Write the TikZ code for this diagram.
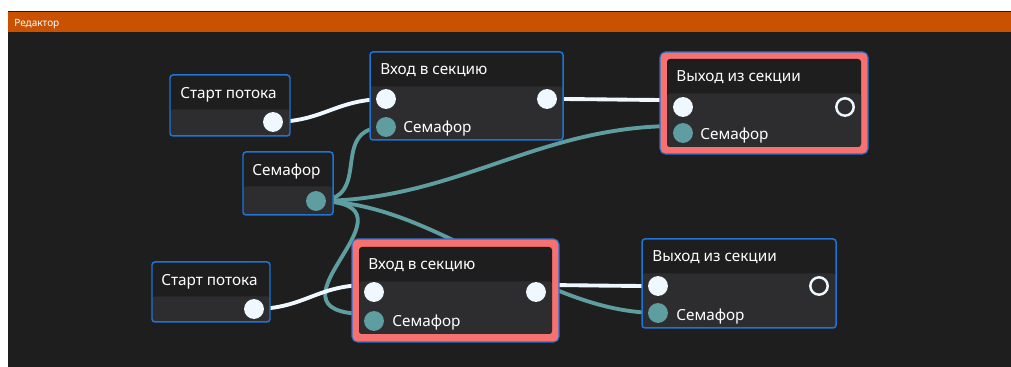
\documentclass[tikz,border=0pt]{standalone}
\usepackage{fontspec}
\setmainfont{Noto Sans}
\usepackage{tikz}
\usetikzlibrary{fit, calc}
\pgfdeclarelayer{back}
\pgfdeclarelayer{background}
\pgfsetlayers{back,background,main}

\definecolor{winbg}{RGB}{30,30,30}
\definecolor{barorange}{RGB}{202,81,0}
\definecolor{hdrgray}{RGB}{30,30,30}
\definecolor{bodygray}{RGB}{45,45,48}
\definecolor{nodeblue}{RGB}{30,115,215}
\definecolor{selred}{RGB}{248,113,113}
\definecolor{semteal}{RGB}{95,158,160}
\definecolor{portwhite}{RGB}{240,248,255}

\begin{document}
\begin{tikzpicture}[x=0.02cm, y=-0.02cm]

    % Window
    \useasboundingbox (0,0) rectangle (1011,367);

    % Node boxes
    \tikzset{box/.style={draw=nodeblue, line width=0.85pt, fill=hdrgray, rounded corners=1.7pt, inner sep=0pt,
        path picture={\fill[bodygray] ([yshift=-19.6pt]path picture bounding box.north west) rectangle (path picture bounding box.south east);}}}
    \tikzset{selbox/.style={box, draw=none}}
    \tikzset{ring/.style={draw=nodeblue, line width=0.6pt, fill=selred, rounded corners=3pt, inner sep=0pt}}

    % Ports
    \tikzset{wport/.style={circle, fill=portwhite, minimum size=11.3pt, inner sep=0pt}}
    \tikzset{tport/.style={circle, fill=semteal, minimum size=11.3pt, inner sep=0pt}}
    \tikzset{hport/.style={circle, draw=portwhite, line width=1.4pt, minimum size=9.9pt, inner sep=0pt}}

    % Texts
    \tikzset{lbl/.style={anchor=base west, inner sep=0pt, text=white, font=\fontsize{8.7pt}{10pt}\selectfont}}

    % Wires
    \tikzset{wire/.style={draw=portwhite, line width=2.2pt}}
    \tikzset{swire/.style={draw=semteal, line width=2.2pt}}

    \begin{pgfonlayer}{back}
        \fill[white] (0,0) rectangle (1011,367);
        \fill[winbg] (8,11) rectangle (1011,367);
        \fill[barorange] (8,12) rectangle (1011,32);
    \end{pgfonlayer}
    \node (ttl) [anchor=base west, inner sep=0pt, text=white, font=\fontsize{5.7pt}{7pt}\selectfont] at (14,27) {Редактор};

    % Старт потока (1)
    \node (s1) [box, fit={(170,75) (290,136)}] {};
    \node (s1t) [lbl] at (180,99) {Старт потока};
    \node (s1p) [wport] at (273,122) {};

    % Вход в секцию (1)
    \node (e1) [box, fit={(370,52) (563,140)}] {};
    \node (e1t) [lbl] at (380,75) {Вход в секцию};
    \node (e1in) [wport] at (386,99) {};
    \node (e1out) [wport] at (547,99) {};
    \node (e1sem) [tport] at (386,127) {};
    \node (e1s) [lbl] at (403,133) {Семафор};

    % Семафор
    \node (sm) [box, fit={(243,152) (333,215)}] {};
    \node (smt) [lbl] at (252,176) {Семафор};
    \node (smp) [tport] at (316,201) {};

    % Выход из секции (1), selected
    \node (x1ring) [ring, fit={(660,52) (868,154)}] {};
    \node (x1) [selbox, fit={(667,59) (861,147)}] {};
    \node (x1t) [lbl] at (676,82) {Выход из секции};
    \node (x1in) [wport] at (683,107) {};
    \node (x1out) [hport] at (845,107) {};
    \node (x1sem) [tport] at (683,133) {};
    \node (x1s) [lbl] at (700,140) {Семафор};

    % Старт потока (2)
    \node (s2) [box, fit={(152,262) (270,322)}] {};
    \node (s2t) [lbl] at (161,286) {Старт потока};
    \node (s2p) [wport] at (254,309) {};

    % Вход в секцию (2), selected
    \node (e2ring) [ring, fit={(352,239) (559,342)}] {};
    \node (e2) [selbox, fit={(359,247) (552,334)}] {};
    \node (e2t) [lbl] at (368,270) {Вход в секцию};
    \node (e2in) [wport] at (374,292) {};
    \node (e2out) [wport] at (536,292) {};
    \node (e2sem) [tport] at (374,321) {};
    \node (e2s) [lbl] at (392,327) {Семафор};

    % Выход из секции (2)
    \node (x2) [box, fit={(642,239) (836,328)}] {};
    \node (x2t) [lbl] at (652,262) {Выход из секции};
    \node (x2in) [wport] at (658,286) {};
    \node (x2out) [hport] at (819,286) {};
    \node (x2sem) [tport] at (658,313) {};
    \node (x2s) [lbl] at (676,321) {Семафор};

    % Anchors of the selected nodes
    \coordinate (x1inA) at ($(x1in)+(-7,-7)$);
    \coordinate (x1semA) at ($(x1sem)+(-7,-7)$);
    \coordinate (e2inA) at ($(e2in)+(-7,-7)$);
    \coordinate (e2outA) at ($(e2out)+(-7,-7)$);
    \coordinate (e2semA) at ($(e2sem)+(-7,-7)$);

    % Connections
    \begin{pgfonlayer}{background}

        \path[wire] (s1p.center) .. controls +(50,0) and +(-50,0) .. (e1in.center);
        \path[wire] (e1out.center) .. controls +(50,0) and +(-50,0) .. (x1inA);
        \path[swire] (smp.center) .. controls +(60,0) and +(-60,0) .. (e1sem.center);
        \path[swire] (smp.center) .. controls +(140,0) and +(-140,0) .. (x1semA);
        \path[swire] (smp.center) .. controls +(120,0) and +(-120,0) .. (e2semA);
        \path[swire] (smp.center) .. controls +(120,0) and +(-120,0) .. (x2sem.center);
        \path[wire] (s2p.center) .. controls +(50,0) and +(-50,0) .. (e2inA);
        \path[wire] (e2outA) .. controls +(50,0) and +(-50,0) .. (x2in.center);

    \end{pgfonlayer}

\end{tikzpicture}
\end{document}
